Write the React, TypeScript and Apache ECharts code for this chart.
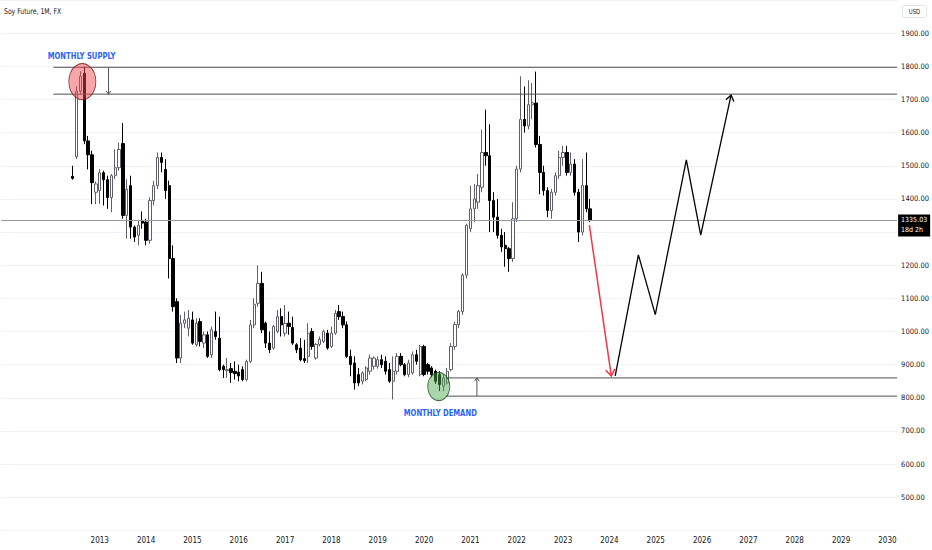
import React, { useEffect, useRef } from 'react';
import * as echarts from 'echarts';

const FONT = '"Liberation Sans Narrow", "DejaVu Sans Condensed", "Liberation Sans", sans-serif';

// month categories, Dec 2010 .. Mar 2030
const firstYear = 2010;
const firstMonth = 12;
const monthCount = 232;
const firstLabelYear = 2013;

// monthly candles from Jun 2012, [open, high, low, close]
const candleStart = 18;
const candles: [number, number, number, number][] = [
  [1468, 1500, 1458, 1462], [1527, 1740, 1520, 1725], [1725, 1785, 1715, 1770], [1779, 1799, 1565, 1575],
  [1575, 1590, 1489, 1533], [1533, 1545, 1384, 1449], [1420, 1452, 1384, 1445],
  // 2013
  [1425, 1490, 1385, 1479], [1479, 1485, 1380, 1458], [1458, 1470, 1370, 1404], [1404, 1475, 1360, 1470],
  [1470, 1549, 1460, 1494], [1494, 1570, 1485, 1549], [1567, 1629, 1340, 1350], [1350, 1459, 1280, 1429],
  [1440, 1470, 1280, 1315], [1315, 1320, 1270, 1285], [1290, 1335, 1260, 1320], [1335, 1362, 1310, 1327],
  // 2014
  [1330, 1340, 1260, 1275], [1275, 1405, 1265, 1395], [1395, 1455, 1380, 1440], [1440, 1540, 1430, 1525],
  [1525, 1540, 1480, 1510], [1489, 1520, 1400, 1425], [1440, 1455, 1160, 1220], [1220, 1260, 1060, 1075],
  [1090, 1100, 905, 920], [920, 1050, 905, 1025], [1025, 1060, 1010, 1035], [1010, 1065, 985, 1040],
  // 2015
  [1035, 1060, 960, 965], [960, 1040, 955, 1025], [1030, 1040, 955, 970], [965, 1000, 950, 990],
  [990, 1000, 920, 925], [930, 1015, 920, 1005], [1000, 1060, 975, 985], [980, 1045, 880, 885],
  [895, 900, 860, 885], [882, 920, 860, 885], [888, 905, 845, 876], [880, 910, 855, 873],
  // 2016
  [877, 900, 850, 866], [885, 895, 850, 855], [855, 915, 850, 910], [910, 1035, 905, 1020],
  [1020, 1100, 1010, 1082], [1085, 1200, 1075, 1145], [1145, 1180, 995, 1005], [1025, 1030, 950, 965],
  [965, 1000, 935, 945], [950, 1020, 945, 1015], [1000, 1065, 995, 1045], [1045, 1070, 985, 1020],
  // 2017
  [995, 1080, 985, 1025], [1025, 1060, 990, 1015], [1012, 1045, 960, 965], [960, 965, 935, 945],
  [950, 980, 910, 915], [918, 975, 905, 912], [925, 1025, 905, 995], [1000, 1010, 945, 955],
  [920, 965, 915, 961], [961, 985, 955, 976], [970, 1005, 965, 1000], [995, 1005, 945, 950],
  // 2018
  [955, 1015, 950, 995], [995, 1065, 990, 1055], [1060, 1080, 1035, 1045], [1045, 1060, 1010, 1020],
  [1020, 1030, 920, 925], [925, 945, 865, 900], [905, 925, 825, 845], [870, 890, 835, 845],
  [850, 880, 840, 875], [855, 895, 850, 890], [880, 930, 870, 920], [895, 925, 885, 920],
  // 2019
  [895, 925, 888, 915], [915, 930, 890, 900], [910, 925, 870, 880], [885, 905, 845, 850],
  [850, 925, 795, 880], [880, 935, 870, 925], [925, 935, 895, 900], [900, 905, 865, 870],
  [870, 915, 862, 905], [875, 940, 870, 930], [930, 945, 900, 910], [870, 960, 865, 955],
  // 2020
  [955, 960, 865, 870], [900, 905, 870, 880], [890, 895, 862, 870], [880, 885, 842, 850],
  [870, 880, 820, 840], [835, 870, 820, 860], [845, 890, 840, 880], [885, 965, 880, 955],
  [955, 1030, 945, 1021], [1021, 1065, 1010, 1060], [1060, 1175, 1050, 1170], [1170, 1325, 1160, 1320],
  // 2021
  [1310, 1440, 1300, 1370], [1370, 1445, 1330, 1400], [1390, 1475, 1370, 1440], [1435, 1609, 1420, 1540],
  [1540, 1669, 1500, 1530], [1530, 1625, 1300, 1395], [1395, 1420, 1300, 1345], [1345, 1400, 1280, 1290],
  [1290, 1310, 1240, 1255], [1260, 1300, 1195, 1250], [1250, 1255, 1180, 1220], [1220, 1390, 1210, 1340],
  // 2022
  [1340, 1500, 1330, 1490], [1490, 1770, 1480, 1640], [1640, 1739, 1600, 1620], [1620, 1758, 1610, 1684],
  [1684, 1750, 1640, 1690], [1689, 1784, 1555, 1564], [1564, 1590, 1414, 1480], [1480, 1500, 1410, 1425],
  [1425, 1435, 1345, 1365], [1365, 1430, 1340, 1420], [1420, 1480, 1410, 1470], [1470, 1545, 1460, 1525],
  // 2023
  [1525, 1560, 1500, 1540], [1540, 1560, 1470, 1480], [1480, 1540, 1470, 1505], [1505, 1520, 1410, 1420],
  [1420, 1430, 1270, 1300], [1300, 1520, 1290, 1440], [1440, 1540, 1360, 1370], [1370, 1400, 1330, 1335.03],
];

const lastPrice = 1335.03;
const lastPriceTimer = '18d 2h';

// annotations, x in decimal years
const zones = [
  { top: 1797, bottom: 1716, from: 2012.0 },
  { top: 860, bottom: 805, from: 2020.475 },
];
const arrowPaths = [
  { points: [[2023.567, 1321], [2024.04, 866]], color: '#f23645', width: 1.5, head: 8 },
  {
    points: [[2024.125, 866], [2024.625, 1231], [2024.99, 1051], [2025.66, 1518], [2025.97, 1291], [2026.625, 1713]],
    color: '#000000', width: 1.3, head: 7,
  },
  { points: [[2013.19, 1797], [2013.19, 1716]], color: '#555555', width: 1, head: 4 },
  { points: [[2021.14, 805], [2021.14, 860]], color: '#555555', width: 1, head: 4 },
];
const circles = [
  { at: [2012.625, 1754], size: [27, 36], fill: 'rgba(242, 70, 80, 0.6)', border: '#7a1c1c' },
  { at: [2020.317, 834], size: [22, 28], fill: 'rgba(80, 170, 80, 0.6)', border: '#1e4d1e' },
];
const notes = [
  { text: 'MONTHLY SUPPLY', at: [2012.61, 1832] },
  { text: 'MONTHLY DEMAND', at: [2020.35, 755] },
];

const xMin = 2010.875;
const xMax = xMin + monthCount / 12;

const App: React.FC = () => {
  const ref = useRef<HTMLDivElement>(null);

  useEffect(() => {
    if (!ref.current) return;
    const chart = echarts.init(ref.current, undefined, { renderer: 'svg' });

    const months: string[] = [];
    for (let i = 0; i < monthCount; i++) {
      const m = firstMonth - 1 + i;
      const y = firstYear + Math.floor(m / 12);
      months.push(`${y}-${String((m % 12) + 1).padStart(2, '0')}`);
    }
    const candleData: any[] = months.map((_, i) => {
      const c = candles[i - candleStart];
      return c ? [c[0], c[3], c[2], c[1]] : '-';
    });

    const zoneSeries = zones.flatMap(z => [z.top, z.bottom].map(v => ({
      type: 'line', xAxisIndex: 1, data: [[z.from, v], [xMax, v]], symbol: 'none', silent: true,
      lineStyle: { color: '#505050', width: 1 }, z: 3,
    })));

    chart.setOption({
      animation: false,
      grid: { left: 1.25, right: 32.3, top: -3.9, bottom: 19.6 },
      xAxis: [
        {
          type: 'category', data: months, boundaryGap: true,
          axisLine: { show: false }, axisTick: { show: false }, splitLine: { show: false },
          axisLabel: {
            interval: (_i: number, v: string) => v.endsWith('-01') && Number(v.slice(0, 4)) >= firstLabelYear,
            formatter: (v: string) => v.slice(0, 4),
            color: '#131722', fontSize: 8, fontFamily: FONT, margin: 6,
          },
        },
        { type: 'value', min: xMin, max: xMax, show: false },
      ],
      yAxis: {
        type: 'value', position: 'right', min: 400, max: 2000, interval: 100,
        axisLine: { show: false }, axisTick: { show: false },
        splitLine: { lineStyle: { color: '#f0f3fa', width: 1 } },
        axisLabel: {
          // the last-price tag hides the tick label it covers
          formatter: (v: number) => (v >= 500 && v <= 1900 && Math.abs(v - lastPrice) > 40 ? v.toFixed(2) : ''),
          color: '#131722', fontSize: 7.5, fontFamily: FONT, margin: 4,
        },
      },
      series: [
        {
          type: 'candlestick', data: candleData, barWidth: 2.8,
          itemStyle: { color: '#ffffff', color0: '#000000', borderColor: '#5d606b', borderColor0: '#000000', borderWidth: 1 },
          markLine: {
            symbol: 'none', silent: true,
            lineStyle: { color: '#9598a1', width: 1, type: 'solid' },
            label: {
              position: 'end', formatter: `${lastPrice.toFixed(2)}\n${lastPriceTimer}`,
              color: '#ffffff', backgroundColor: '#000000', fontSize: 7, lineHeight: 10,
              fontFamily: FONT, padding: [1, 3], distance: 1, offset: [0, 5],
            },
            data: [{ yAxis: lastPrice }],
          },
          z: 2,
        },
        ...zoneSeries,
        {
          type: 'scatter', xAxisIndex: 1, silent: true, z: 4,
          data: circles.map(c => ({ value: c.at, symbolSize: c.size, itemStyle: { color: c.fill, borderColor: c.border, borderWidth: 1 } })),
        },
        {
          type: 'custom', xAxisIndex: 1, silent: true, z: 5, clip: false,
          data: arrowPaths.map(p => p.points[0]),
          renderItem: (params: any, api: any) => {
            const p = arrowPaths[params.dataIndex];
            const pts = p.points.map(q => api.coord(q));
            const [ex, ey] = pts[pts.length - 1];
            const [px, py] = pts[pts.length - 2];
            const a = Math.atan2(ey - py, ex - px);
            const spread = Math.PI / 5;
            const h1 = [ex - p.head * Math.cos(a - spread), ey - p.head * Math.sin(a - spread)];
            const h2 = [ex - p.head * Math.cos(a + spread), ey - p.head * Math.sin(a + spread)];
            const style = { stroke: p.color, lineWidth: p.width, fill: null };
            return {
              type: 'group',
              children: [
                { type: 'polyline', shape: { points: pts }, style },
                { type: 'polyline', shape: { points: [h1, [ex, ey], h2] }, style },
              ],
            };
          },
        },
        {
          type: 'custom', xAxisIndex: 1, silent: true, z: 6, clip: false,
          data: notes.map(n => n.at),
          renderItem: (params: any, api: any) => {
            const n = notes[params.dataIndex];
            const [x, y] = api.coord(n.at);
            return {
              type: 'text', x, y, scaleX: 0.8,
              style: {
                text: n.text, fill: '#2962ff', fontSize: 9.5, fontWeight: 'bold', fontFamily: FONT,
                align: 'center', verticalAlign: 'middle',
              },
            };
          },
        },
      ],
      graphic: [
        { type: 'text', x: 4, y: 11.5, scaleX: 0.85, style: { text: 'Soy Future, 1M, FX', fill: '#131722', fontSize: 8, fontFamily: FONT, verticalAlign: 'middle' } },
        { type: 'rect', shape: { x: 902.5, y: 5.5, width: 24, height: 12, r: 2 }, style: { fill: '#ffffff', stroke: '#e0e3eb', lineWidth: 1 } },
        { type: 'text', x: 914.5, y: 11.5, scaleX: 0.85, style: { text: 'USD', fill: '#131722', fontSize: 7, fontFamily: FONT, align: 'center', verticalAlign: 'middle' } },
      ],
    });

    return () => chart.dispose();
  }, []);

  return <div ref={ref} style={{ position: 'absolute', left: 0, top: 0, width: 932, height: 550, background: '#ffffff' }} />;
};

export default App;
